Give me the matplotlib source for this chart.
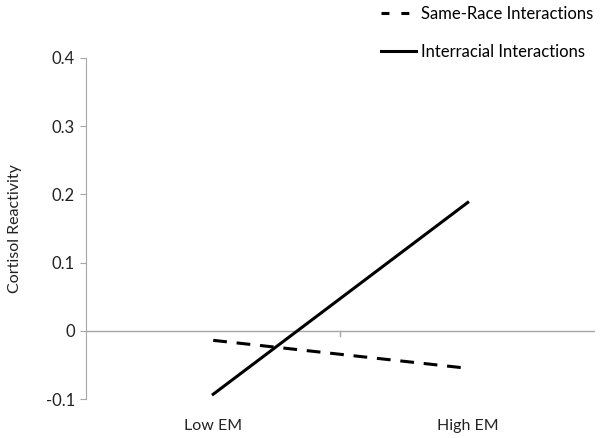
import numpy as np
import matplotlib.pyplot as plt
from matplotlib.lines import Line2D

plt.rcParams['font.family'] = ['Lato', 'DejaVu Sans']

# data
groups = ['Low EM', 'High EM']
same_race = [-0.014, -0.055]
interracial = [-0.093, 0.188]
yticks = [-0.1, 0, 0.1, 0.2, 0.3, 0.4]

fig = plt.figure(figsize=(6.01, 4.38), dpi=100)
ax = fig.add_axes([0.143, 0.089, 0.847, 0.779])

x = np.arange(len(groups))
ax.plot(x, same_race, color='black', lw=2.2, dashes=(4.5, 3.2))
ax.plot(x, interracial, color='black', lw=2.2)

ax.set_xlim(-0.5, 1.5)
ax.set_ylim(-0.1, 0.4)
ax.set_yticks(yticks)
ax.set_yticklabels(['-0.1', '0', '0.1', '0.2', '0.3', '0.4'], fontsize=12, color='#222222')

# category axis sits at y = 0, ticks between the categories
for s in ['top', 'right', 'bottom']:
    ax.spines[s].set_visible(False)
ax.spines['left'].set_color('#a6a6a6')
ax.axhline(0, color='#a6a6a6', lw=1, zorder=0)
ax.tick_params(axis='y', length=4.3, color='#a6a6a6', pad=3.6)
ax.set_xticks([])
ax.plot([0.5, 0.5], [0, -0.007], color='#a6a6a6', lw=1, clip_on=False, zorder=0)
for xi, g in zip(x, groups):
    ax.text(xi, -0.139, g, ha='center', va='center', fontsize=11.5, color='#222222')

fig.text(15 / 601, 0.4785, 'Cortisol Reactivity', rotation=90, ha='center', va='center',
         fontsize=11.5, color='#222222')

handles = [Line2D([], [], color='black', lw=2.2, dashes=(2.6, 3.9)),
           Line2D([], [], color='black', lw=2.2)]
fig.legend(handles, ['Same-Race Interactions', 'Interracial Interactions'],
           loc='upper left', bbox_to_anchor=(0.634, 0.986), frameon=False,
           borderpad=0, borderaxespad=0,
           fontsize=12, handlelength=2.1, handletextpad=0.3, labelspacing=1.3)

fig.savefig('out.png', dpi=100)
